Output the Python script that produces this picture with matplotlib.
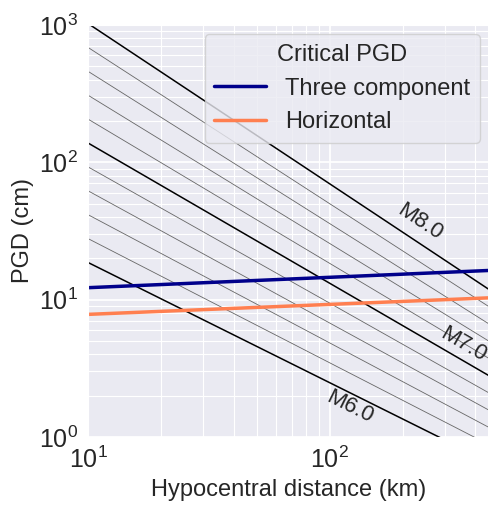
import matplotlib
matplotlib.use('Agg')
import matplotlib.pyplot as plt
import seaborn as sns
import numpy as np

# PGD scaling law: log10(PGD) = A + B*M + C*M*log10(R)
A = -3.95
B = 1.016
C = -0.146

thick_mags = [6.0, 7.0, 8.0]
thin_mags = [6.2, 6.4, 6.6, 6.8, 7.2, 7.4, 7.6, 7.8]

# critical PGD thresholds (cm) at the ends of the distance range
crit_dist = [10, 460]
crit_three = [12.2, 16.3]
crit_horiz = [7.8, 10.3]

label_pos = {6.0: (121, 1.66), 7.0: (355, 4.7), 8.0: (235, 36.5)}


def pgd(mag, dist):
    return 10 ** (A + B * mag + C * mag * np.log10(dist))


sns.set_style('darkgrid')
plt.rcParams['font.family'] = ['Liberation Sans', 'DejaVu Sans']

fig = plt.figure(figsize=(4.89, 5.08), dpi=100)
ax = fig.add_axes([0.18, 0.14, 0.82, 0.811])

dist = np.array([10.0, 600.0])
for m in thin_mags:
    ax.plot(dist, pgd(m, dist), color='0.4', lw=0.6)
for m in thick_mags:
    ax.plot(dist, pgd(m, dist), color='k', lw=1.1)

ax.plot(crit_dist, crit_three, color='darkblue', lw=2.5, label='Three component')
ax.plot(crit_dist, crit_horiz, color='coral', lw=2.5, label='Horizontal')

ax.set_xscale('log')
ax.set_yscale('log')
ax.set_xlim(10, 455)
ax.set_ylim(1, 1000)

# rotate labels along the lines
for m in thick_mags:
    x, y = label_pos[m]
    p1 = ax.transData.transform((10, pgd(m, 10)))
    p2 = ax.transData.transform((400, pgd(m, 400)))
    ang = np.degrees(np.arctan2(p2[1] - p1[1], p2[0] - p1[0]))
    ax.text(x, y, 'M%.1f' % m, rotation=ang, ha='center', va='center',
            fontsize=16, color='0.15', clip_on=False)

ax.grid(True, which='major', color='white', lw=1.3)
ax.grid(True, which='minor', color='white', lw=0.8)
ax.tick_params(axis='both', which='major', labelsize=18, colors='0.15')
ax.set_xlabel('Hypocentral distance (km)', fontsize=17, color='0.15')
ax.set_ylabel('PGD (cm)', fontsize=17, color='0.15')

leg = ax.legend(title='Critical PGD', loc='upper right', fontsize=17,
                title_fontsize=17, handlelength=2.2, borderaxespad=0.4)

fig.savefig('out.png', dpi=100)
